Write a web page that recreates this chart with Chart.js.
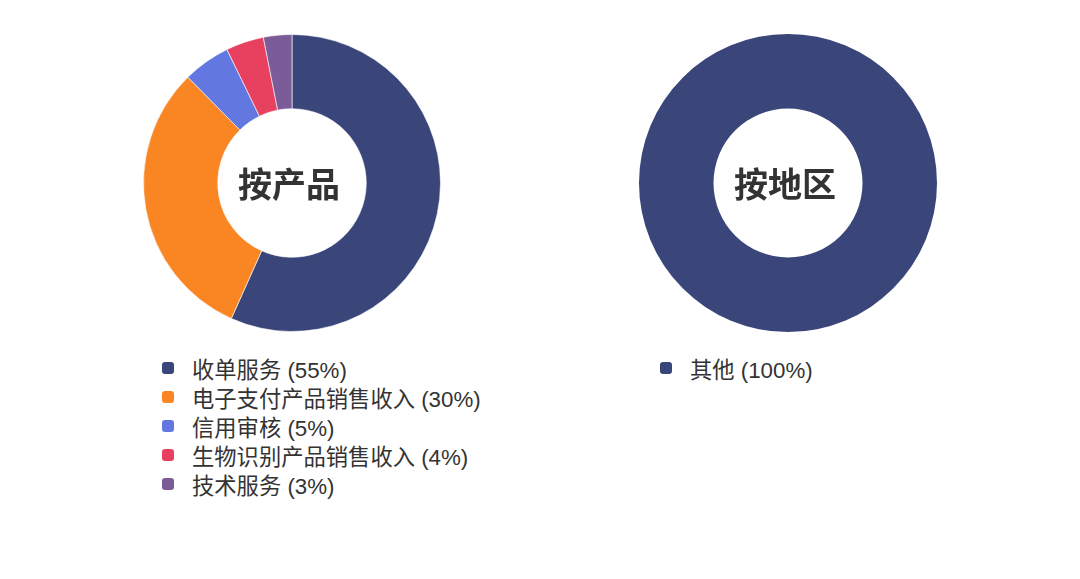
<!DOCTYPE html>
<html>
<head>
<meta charset="utf-8">
<script src="https://cdn.jsdelivr.net/npm/chart.js@4"></script>
<style>
    html, body { margin: 0; padding: 0; background: #fff; }
    body { width: 1080px; height: 579px; position: relative; overflow: hidden;
           font-family: "Liberation Sans", "Noto Sans CJK SC", sans-serif; }
    .box { position: absolute; width: 298px; height: 298px; }
    .legend { position: absolute; margin: 0; padding: 0; list-style: none; color: #333; font-size: 22.3px; }
    .legend li { height: 29px; display: flex; align-items: center; white-space: nowrap; }
    .legend .mark { width: 12px; height: 12px; border-radius: 3px; margin-right: 18px; flex: none; }
</style>
</head>
<body>
<div class="box" style="left:143px; top:34px;"><canvas id="productChart"></canvas></div>
<div class="box" style="left:639px; top:34px;"><canvas id="regionChart"></canvas></div>
<ul class="legend" id="productLegend" style="left:162px; top:353px;"></ul>
<ul class="legend" id="regionLegend" style="left:660px; top:353px;"></ul>

<script>
// revenue split by product (%)
const productLabels = ["收单服务", "电子支付产品销售收入", "信用审核", "生物识别产品销售收入", "技术服务"];
const productValues = [55, 30, 5, 4, 3];
const productColors = ["#3A467A", "#FA8523", "#6278E0", "#E84160", "#7C5C98"];

// revenue split by region (%)
const regionLabels = ["其他"];
const regionValues = [100];
const regionColors = ["#3A467A"];

// draws the title in the middle of the doughnut
const centerText = {
    id: "centerText",
    afterDraw(chart, args, opts) {
        const meta = chart.getDatasetMeta(0);
        if (!meta.data.length) return;
        const { x, y } = meta.data[0];
        const ctx = chart.ctx;
        ctx.save();
        ctx.font = "bold 34px 'Noto Sans CJK SC', sans-serif";
        ctx.fillStyle = "#333";
        ctx.textAlign = "center";
        ctx.textBaseline = "middle";
        ctx.fillText(opts.text, x - 3, y + 1);
        ctx.restore();
    }
};

function makeDoughnut(canvasId, legendId, title, labels, values, colors) {
    const chart = new Chart(document.getElementById(canvasId), {
        type: "doughnut",
        data: {
            labels: labels,
            datasets: [{
                data: values,
                backgroundColor: colors,
                borderColor: "rgba(255,255,255,0.6)",
                borderWidth: values.length > 1 ? 1 : 0
            }]
        },
        options: {
            responsive: true,
            maintainAspectRatio: false,
            animation: false,
            cutout: "50%",
            layout: { padding: 0 },
            plugins: {
                legend: { display: false },
                tooltip: { enabled: false },
                centerText: { text: title }
            }
        },
        plugins: [centerText]
    });

    // html legend built from the chart's own legend items
    const items = chart.options.plugins.legend.labels.generateLabels(chart);
    const ul = document.getElementById(legendId);
    items.forEach(item => {
        const li = document.createElement("li");
        const mark = document.createElement("span");
        mark.className = "mark";
        mark.style.background = item.fillStyle;
        const txt = document.createElement("span");
        txt.textContent = `${item.text} (${values[item.index]}%)`;
        li.appendChild(mark);
        li.appendChild(txt);
        ul.appendChild(li);
    });
    return chart;
}

makeDoughnut("productChart", "productLegend", "按产品", productLabels, productValues, productColors);
makeDoughnut("regionChart", "regionLegend", "按地区", regionLabels, regionValues, regionColors);
</script>
</body>
</html>
